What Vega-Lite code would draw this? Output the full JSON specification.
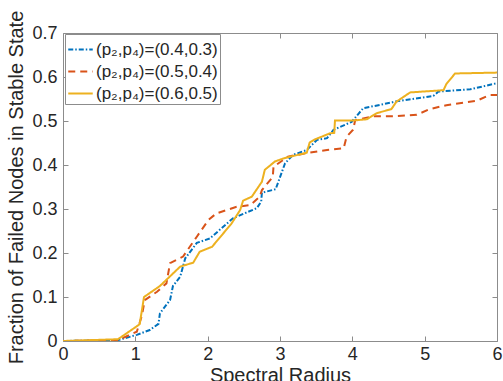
{
  "$schema": "https://vega.github.io/schema/vega-lite/v6.json",
  "width": 434,
  "height": 308,
  "autosize": "none",
  "padding": {"left": 63, "top": 33, "right": 6, "bottom": 40},
  "background": "white",
  "config": {
    "font": "Liberation Sans",
    "view": {"stroke": "#8c8c8c", "strokeWidth": 1},
    "axis": {
      "grid": false,
      "domain": false,
      "tickColor": "#8c8c8c",
      "tickSize": -5,
      "labelColor": "#262626",
      "titleColor": "#262626",
      "labelFontSize": 18,
      "titleFontSize": 20,
      "titleFontWeight": "normal",
      "labelFont": "Liberation Sans",
      "titleFont": "Liberation Sans"
    }
  },
  "resolve": {"axis": {"x": "independent", "y": "independent"}},
  "data": {"values": [
    {"s": "(p₂,p₄)=(0.4,0.3)", "x": 0, "y": 0},
    {"s": "(p₂,p₄)=(0.4,0.3)", "x": 0.76, "y": 0.002},
    {"s": "(p₂,p₄)=(0.4,0.3)", "x": 1.02, "y": 0.014},
    {"s": "(p₂,p₄)=(0.4,0.3)", "x": 1.2, "y": 0.025},
    {"s": "(p₂,p₄)=(0.4,0.3)", "x": 1.32, "y": 0.039},
    {"s": "(p₂,p₄)=(0.4,0.3)", "x": 1.34, "y": 0.063},
    {"s": "(p₂,p₄)=(0.4,0.3)", "x": 1.48, "y": 0.093},
    {"s": "(p₂,p₄)=(0.4,0.3)", "x": 1.52, "y": 0.125},
    {"s": "(p₂,p₄)=(0.4,0.3)", "x": 1.62, "y": 0.146},
    {"s": "(p₂,p₄)=(0.4,0.3)", "x": 1.69, "y": 0.188},
    {"s": "(p₂,p₄)=(0.4,0.3)", "x": 1.85, "y": 0.223},
    {"s": "(p₂,p₄)=(0.4,0.3)", "x": 2.03, "y": 0.233},
    {"s": "(p₂,p₄)=(0.4,0.3)", "x": 2.35, "y": 0.279},
    {"s": "(p₂,p₄)=(0.4,0.3)", "x": 2.68, "y": 0.302},
    {"s": "(p₂,p₄)=(0.4,0.3)", "x": 2.74, "y": 0.317},
    {"s": "(p₂,p₄)=(0.4,0.3)", "x": 2.75, "y": 0.337},
    {"s": "(p₂,p₄)=(0.4,0.3)", "x": 2.94, "y": 0.345},
    {"s": "(p₂,p₄)=(0.4,0.3)", "x": 3.07, "y": 0.404},
    {"s": "(p₂,p₄)=(0.4,0.3)", "x": 3.18, "y": 0.423},
    {"s": "(p₂,p₄)=(0.4,0.3)", "x": 3.37, "y": 0.434},
    {"s": "(p₂,p₄)=(0.4,0.3)", "x": 3.51, "y": 0.457},
    {"s": "(p₂,p₄)=(0.4,0.3)", "x": 3.65, "y": 0.461},
    {"s": "(p₂,p₄)=(0.4,0.3)", "x": 3.74, "y": 0.48},
    {"s": "(p₂,p₄)=(0.4,0.3)", "x": 3.99, "y": 0.498},
    {"s": "(p₂,p₄)=(0.4,0.3)", "x": 4.15, "y": 0.529},
    {"s": "(p₂,p₄)=(0.4,0.3)", "x": 4.54, "y": 0.542},
    {"s": "(p₂,p₄)=(0.4,0.3)", "x": 4.59, "y": 0.544},
    {"s": "(p₂,p₄)=(0.4,0.3)", "x": 5.12, "y": 0.557},
    {"s": "(p₂,p₄)=(0.4,0.3)", "x": 5.19, "y": 0.567},
    {"s": "(p₂,p₄)=(0.4,0.3)", "x": 5.63, "y": 0.572},
    {"s": "(p₂,p₄)=(0.4,0.3)", "x": 6.0, "y": 0.586},
    {"s": "(p₂,p₄)=(0.5,0.4)", "x": 0, "y": 0},
    {"s": "(p₂,p₄)=(0.5,0.4)", "x": 0.76, "y": 0.002},
    {"s": "(p₂,p₄)=(0.5,0.4)", "x": 1.02, "y": 0.021},
    {"s": "(p₂,p₄)=(0.5,0.4)", "x": 1.09, "y": 0.057},
    {"s": "(p₂,p₄)=(0.5,0.4)", "x": 1.13, "y": 0.093},
    {"s": "(p₂,p₄)=(0.5,0.4)", "x": 1.3, "y": 0.112},
    {"s": "(p₂,p₄)=(0.5,0.4)", "x": 1.43, "y": 0.131},
    {"s": "(p₂,p₄)=(0.5,0.4)", "x": 1.48, "y": 0.177},
    {"s": "(p₂,p₄)=(0.5,0.4)", "x": 1.66, "y": 0.192},
    {"s": "(p₂,p₄)=(0.5,0.4)", "x": 1.85, "y": 0.237},
    {"s": "(p₂,p₄)=(0.5,0.4)", "x": 2.01, "y": 0.275},
    {"s": "(p₂,p₄)=(0.5,0.4)", "x": 2.12, "y": 0.29},
    {"s": "(p₂,p₄)=(0.5,0.4)", "x": 2.4, "y": 0.305},
    {"s": "(p₂,p₄)=(0.5,0.4)", "x": 2.59, "y": 0.309},
    {"s": "(p₂,p₄)=(0.5,0.4)", "x": 2.72, "y": 0.328},
    {"s": "(p₂,p₄)=(0.5,0.4)", "x": 2.75, "y": 0.343},
    {"s": "(p₂,p₄)=(0.5,0.4)", "x": 2.9, "y": 0.373},
    {"s": "(p₂,p₄)=(0.5,0.4)", "x": 2.91, "y": 0.396},
    {"s": "(p₂,p₄)=(0.5,0.4)", "x": 3.11, "y": 0.419},
    {"s": "(p₂,p₄)=(0.5,0.4)", "x": 3.37, "y": 0.427},
    {"s": "(p₂,p₄)=(0.5,0.4)", "x": 3.65, "y": 0.434},
    {"s": "(p₂,p₄)=(0.5,0.4)", "x": 3.88, "y": 0.438},
    {"s": "(p₂,p₄)=(0.5,0.4)", "x": 3.92, "y": 0.464},
    {"s": "(p₂,p₄)=(0.5,0.4)", "x": 4.01, "y": 0.48},
    {"s": "(p₂,p₄)=(0.5,0.4)", "x": 4.04, "y": 0.502},
    {"s": "(p₂,p₄)=(0.5,0.4)", "x": 4.29, "y": 0.511},
    {"s": "(p₂,p₄)=(0.5,0.4)", "x": 4.57, "y": 0.511},
    {"s": "(p₂,p₄)=(0.5,0.4)", "x": 4.89, "y": 0.514},
    {"s": "(p₂,p₄)=(0.5,0.4)", "x": 5.07, "y": 0.527},
    {"s": "(p₂,p₄)=(0.5,0.4)", "x": 5.3, "y": 0.536},
    {"s": "(p₂,p₄)=(0.5,0.4)", "x": 5.72, "y": 0.546},
    {"s": "(p₂,p₄)=(0.5,0.4)", "x": 5.9, "y": 0.559},
    {"s": "(p₂,p₄)=(0.5,0.4)", "x": 6.0, "y": 0.559},
    {"s": "(p₂,p₄)=(0.6,0.5)", "x": 0, "y": 0},
    {"s": "(p₂,p₄)=(0.6,0.5)", "x": 0.76, "y": 0.004},
    {"s": "(p₂,p₄)=(0.6,0.5)", "x": 1.06, "y": 0.038},
    {"s": "(p₂,p₄)=(0.6,0.5)", "x": 1.12, "y": 0.1},
    {"s": "(p₂,p₄)=(0.6,0.5)", "x": 1.34, "y": 0.125},
    {"s": "(p₂,p₄)=(0.6,0.5)", "x": 1.62, "y": 0.169},
    {"s": "(p₂,p₄)=(0.6,0.5)", "x": 1.8, "y": 0.178},
    {"s": "(p₂,p₄)=(0.6,0.5)", "x": 1.89, "y": 0.203},
    {"s": "(p₂,p₄)=(0.6,0.5)", "x": 2.06, "y": 0.214},
    {"s": "(p₂,p₄)=(0.6,0.5)", "x": 2.33, "y": 0.267},
    {"s": "(p₂,p₄)=(0.6,0.5)", "x": 2.45, "y": 0.298},
    {"s": "(p₂,p₄)=(0.6,0.5)", "x": 2.49, "y": 0.319},
    {"s": "(p₂,p₄)=(0.6,0.5)", "x": 2.61, "y": 0.328},
    {"s": "(p₂,p₄)=(0.6,0.5)", "x": 2.75, "y": 0.362},
    {"s": "(p₂,p₄)=(0.6,0.5)", "x": 2.79, "y": 0.389},
    {"s": "(p₂,p₄)=(0.6,0.5)", "x": 2.93, "y": 0.408},
    {"s": "(p₂,p₄)=(0.6,0.5)", "x": 3.05, "y": 0.415},
    {"s": "(p₂,p₄)=(0.6,0.5)", "x": 3.37, "y": 0.428},
    {"s": "(p₂,p₄)=(0.6,0.5)", "x": 3.41, "y": 0.451},
    {"s": "(p₂,p₄)=(0.6,0.5)", "x": 3.48, "y": 0.458},
    {"s": "(p₂,p₄)=(0.6,0.5)", "x": 3.69, "y": 0.472},
    {"s": "(p₂,p₄)=(0.6,0.5)", "x": 3.75, "y": 0.473},
    {"s": "(p₂,p₄)=(0.6,0.5)", "x": 3.76, "y": 0.501},
    {"s": "(p₂,p₄)=(0.6,0.5)", "x": 4.01, "y": 0.501},
    {"s": "(p₂,p₄)=(0.6,0.5)", "x": 4.2, "y": 0.504},
    {"s": "(p₂,p₄)=(0.6,0.5)", "x": 4.34, "y": 0.518},
    {"s": "(p₂,p₄)=(0.6,0.5)", "x": 4.54, "y": 0.527},
    {"s": "(p₂,p₄)=(0.6,0.5)", "x": 4.61, "y": 0.544},
    {"s": "(p₂,p₄)=(0.6,0.5)", "x": 4.8, "y": 0.565},
    {"s": "(p₂,p₄)=(0.6,0.5)", "x": 5.26, "y": 0.57},
    {"s": "(p₂,p₄)=(0.6,0.5)", "x": 5.3, "y": 0.584},
    {"s": "(p₂,p₄)=(0.6,0.5)", "x": 5.42, "y": 0.608},
    {"s": "(p₂,p₄)=(0.6,0.5)", "x": 6.0, "y": 0.61}
  ]},
  "layer": [
    {
      "mark": {"type": "line", "opacity": 0},
      "encoding": {
        "x": {"field": "x", "type": "quantitative", "scale": {"domain": [0, 6], "nice": false},
          "axis": {"orient": "top", "title": null, "labels": false, "values": [0, 1, 2, 3, 4, 5, 6]}},
        "y": {"field": "y", "type": "quantitative", "scale": {"domain": [0, 0.7], "nice": false, "zero": false},
          "axis": {"orient": "right", "title": null, "labels": false, "values": [0, 0.1, 0.2, 0.3, 0.4, 0.5, 0.6, 0.7]}}
      }
    },
    {
      "mark": {"type": "line", "strokeWidth": 2, "clip": true},
      "encoding": {
        "x": {"field": "x", "type": "quantitative", "scale": {"domain": [0, 6], "nice": false},
          "axis": {"orient": "bottom", "title": "Spectral Radius", "values": [0, 1, 2, 3, 4, 5, 6], "labelPadding": 9, "titlePadding": 2, "labelFlush": false}},
        "y": {"field": "y", "type": "quantitative", "scale": {"domain": [0, 0.7], "nice": false, "zero": false},
          "axis": {"orient": "left", "title": "Fraction of Failed Nodes in Stable State", "values": [0, 0.1, 0.2, 0.3, 0.4, 0.5, 0.6, 0.7], "format": ".1~f", "labelPadding": 11, "titlePadding": 5, "labelFlush": false}},
        "color": {"field": "s", "type": "nominal",
          "scale": {"range": ["#0072BD", "#D95319", "#EDB120"]},
          "legend": {"title": null, "orient": "none", "legendX": 2, "legendY": 1,
            "symbolType": "stroke", "symbolSize": 600, "symbolStrokeWidth": 2,
            "labelFontSize": 17, "labelColor": "#262626", "labelOffset": 2,
            "fillColor": "white", "strokeColor": "#8c8c8c", "padding": 2, "rowPadding": -4}},
        "strokeDash": {"field": "s", "type": "nominal",
          "scale": {"range": [[5, 2, 1.5, 2], [7, 5], [1, 0]]}}
      }
    }
  ]
}
